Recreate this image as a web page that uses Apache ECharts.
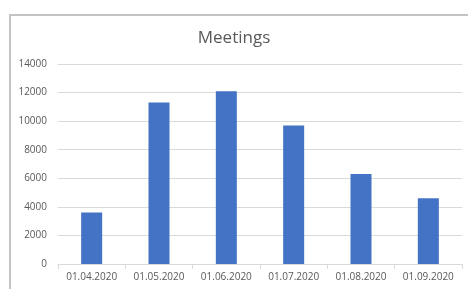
<!DOCTYPE html>
<html>
<head>
<meta charset="utf-8">
<script src="https://cdn.jsdelivr.net/npm/echarts@6/dist/echarts.min.js"></script>
<style>
  html, body { margin: 0; padding: 0; background: #fff; overflow: hidden; }
  #chart { width: 468px; height: 289px; }
</style>
</head>
<body>
<div id="chart"></div>
<script>
const months = ['01.04.2020', '01.05.2020', '01.06.2020', '01.07.2020', '01.08.2020', '01.09.2020']
const meetings = [3600, 11300, 12100, 9700, 6300, 4600]

const chart = echarts.init(document.getElementById('chart'))
const textColor = '#595959'
const lineColor = '#d9d9d9'
const frameColor = '#c3c3c3'

chart.setOption({
  animation: false,
  // chart-area frame: only its left and top edges fall inside the picture
  graphic: [
    { type: 'rect', shape: { x: 9, y: 14, width: 2, height: 275 }, style: { fill: frameColor } },
    { type: 'rect', shape: { x: 9, y: 14, width: 459, height: 2 }, style: { fill: frameColor } },
  ],
  title: {
    text: 'Meetings',
    left: 'center',
    top: 25,
    textStyle: { fontFamily: 'Open Sans', fontSize: 17, fontWeight: 'normal', color: textColor },
  },
  grid: { left: 58, right: 6, top: 64, bottom: 25 },
  xAxis: {
    type: 'category',
    data: months,
    axisLine: { lineStyle: { color: lineColor } },
    axisTick: { show: true, length: 5, lineStyle: { color: lineColor } },
    axisLabel: { interval: 0, color: textColor, fontFamily: 'Open Sans', fontSize: 10, margin: 8 },
  },
  yAxis: {
    type: 'value',
    min: 0,
    max: 14000,
    interval: 2000,
    axisLine: { show: false },
    axisTick: { show: false },
    splitLine: { lineStyle: { color: lineColor } },
    axisLabel: { color: textColor, fontFamily: 'Open Sans', fontSize: 10, margin: 11, formatter: v => String(v) },
  },
  series: [{ type: 'bar', data: meetings, barWidth: 21, itemStyle: { color: '#4472c4' } }],
})
</script>
</body>
</html>
